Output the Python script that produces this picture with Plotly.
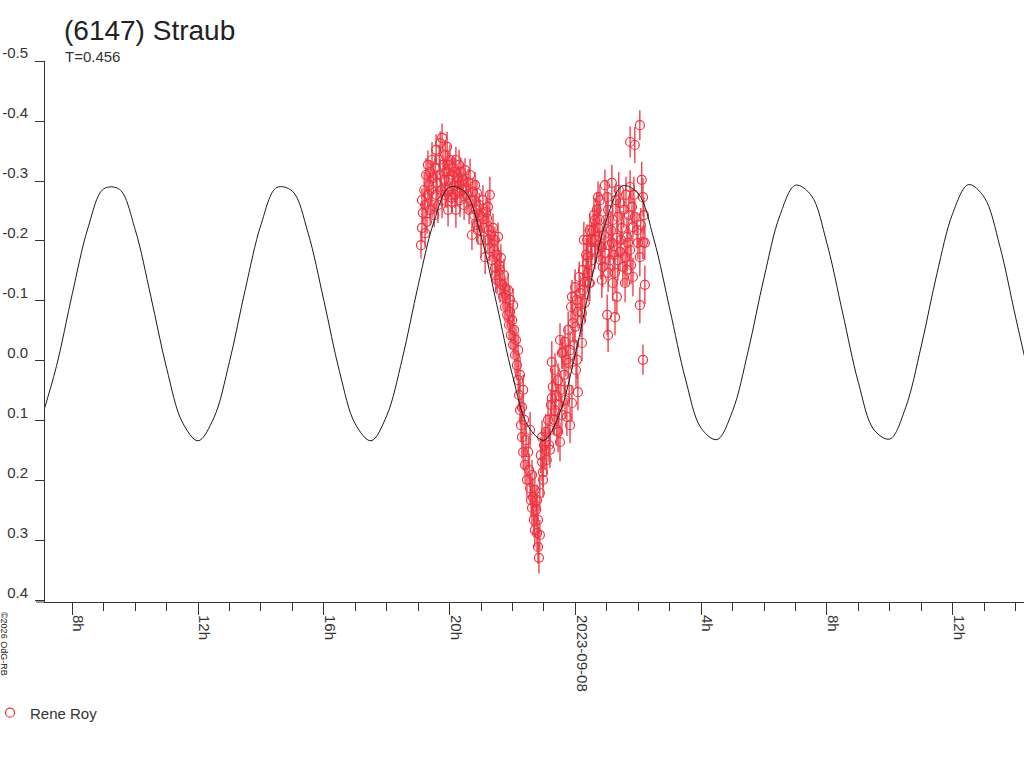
import pandas as pd
import plotly.graph_objects as go

# time axis: hours counted from 2023-09-07 00:00 (UT)
T0 = pd.Timestamp("2023-09-07 00:00")
RED = "#ee3340"

# Fourier fit drawn over the whole window (hours, magnitude)
fit_hours = [7.0, 7.5, 8.0, 8.5, 9.0, 9.5, 10.0, 10.5, 11.0, 11.5, 12.0, 12.5,
             13.0, 13.5, 14.0, 14.5, 15.0, 15.5, 16.0, 16.5, 17.0, 17.5, 18.0, 18.5,
             19.0, 19.5, 20.0, 20.5, 21.0, 21.5, 22.0, 22.5, 23.0, 23.5, 24.0, 24.5,
             25.0, 25.5, 26.0, 26.5, 27.0, 27.5, 28.0, 28.5, 29.0, 29.5, 30.0, 30.5,
             31.0, 31.5, 32.0, 32.5, 33.0, 33.5, 34.0, 34.5, 35.0, 35.5, 36.0, 36.5,
             37.0, 37.5, 38.0, 38.5]
fit_mag = [0.099, 0.008, -0.112, -0.222, -0.287, -0.286, -0.219, -0.107, 0.012, 0.102, 0.133, 0.095,
           0.001, -0.119, -0.227, -0.289, -0.283, -0.213, -0.101, 0.018, 0.105, 0.133, 0.091, -0.005,
           -0.126, -0.232, -0.290, -0.281, -0.208, -0.094, 0.024, 0.109, 0.132, 0.087, -0.012, -0.133,
           -0.237, -0.292, -0.279, -0.202, -0.087, 0.030, 0.112, 0.131, 0.083, -0.018, -0.139, -0.242,
           -0.293, -0.276, -0.196, -0.080, 0.036, 0.115, 0.130, 0.078, -0.025, -0.146, -0.246, -0.294,
           -0.273, -0.191, -0.073, 0.042]

# observations by Rene Roy
obs_hours = [
    19.09, 19.12, 19.12, 19.15, 19.19, 19.22, 19.22, 19.25, 19.28, 19.31, 19.31, 19.35, 19.38, 19.38,
    19.41, 19.44, 19.44, 19.48, 19.51, 19.54, 19.57, 19.57, 19.60, 19.63, 19.67, 19.70, 19.70, 19.73,
    19.76, 19.76, 19.79, 19.83, 19.86, 19.86,
    19.89, 19.92, 19.92, 19.95, 19.95, 19.98, 20.01, 20.05, 20.08, 20.08, 20.11, 20.14, 20.17, 20.20,
    20.20, 20.24, 20.27, 20.30, 20.33, 20.33, 20.17,
    20.36, 20.39, 20.43, 20.46, 20.49, 20.52, 20.55, 20.59, 20.62, 20.65, 20.68, 20.71, 20.74, 20.78, 20.81,
    20.84, 20.87, 20.87, 20.90, 20.94, 20.97, 21.00, 21.03, 21.06, 21.09, 21.13, 21.16, 21.19, 21.22,
    21.22, 21.25, 21.28, 21.28,
    21.32, 21.35, 21.38, 21.41, 21.44, 21.44, 21.47, 21.51, 21.51, 21.54, 21.57, 21.60, 21.60, 21.63,
    21.67, 21.70, 21.73, 21.76, 21.76,
    21.79, 21.83, 21.86, 21.89, 21.92, 21.92, 21.95, 21.99, 22.02, 22.02, 22.05, 22.08, 22.11, 22.14,
    22.18, 22.18,
    22.21, 22.24, 22.24, 22.27, 22.30, 22.30, 22.34, 22.34, 22.37, 22.40, 22.43, 22.46, 22.50, 22.53,
    22.56, 22.56,
    22.59, 22.62, 22.62, 22.65, 22.68, 22.71, 22.71, 22.75, 22.78, 22.78, 22.81, 22.81, 22.84, 22.87, 22.87,
    22.90, 22.94, 22.94, 22.97, 22.97, 23.00, 23.03, 23.06, 23.09, 23.13, 23.16, 23.19, 23.22, 23.25,
    23.25, 23.19,
    23.28, 23.32, 23.35, 23.35, 23.38, 23.41, 23.45, 23.45, 23.48, 23.51, 23.51, 23.54, 23.57, 23.57,
    23.60, 23.64, 23.67, 23.67,
    23.70, 23.73, 23.77, 23.77, 23.80, 23.83, 23.83, 23.86, 23.89, 23.89, 23.92, 23.96, 23.99, 23.99,
    24.02, 24.05, 24.05, 24.08, 24.08,
    24.12, 24.15, 24.18, 24.21, 24.21, 24.24, 24.24, 24.27, 24.30, 24.30, 24.34, 24.37, 24.37, 24.40,
    24.40, 24.43, 24.46, 24.46, 24.49, 24.52, 24.52,
    24.56, 24.59, 24.62, 24.62, 24.65, 24.68, 24.72, 24.72, 24.75, 24.78, 24.78, 24.81, 24.84, 24.84,
    24.87, 24.91, 24.94, 24.94,
    24.97, 25.01, 25.01, 25.04, 25.04, 25.04, 25.07, 25.10, 25.13, 25.16, 25.16, 25.19, 25.19, 25.23,
    25.26, 25.26, 25.29, 25.32, 25.32, 25.35, 25.35, 25.38, 25.42, 25.42,
    25.45, 25.48, 25.51, 25.54, 25.58, 25.58, 25.61, 25.64, 25.64, 25.67, 25.70, 25.74, 25.74, 25.74,
    25.77, 25.80, 25.83, 25.83, 25.86, 25.89, 25.89,
    25.96, 25.99, 26.05, 26.05, 26.05, 26.08, 26.11, 26.15, 26.15, 26.15, 26.18, 26.21, 26.21,
]
obs_mag = [
    -0.193, -0.268, -0.222, -0.247, -0.285, -0.213, -0.260, -0.310, -0.232, -0.327, -0.277, -0.293, -0.252, -0.315,
    -0.285, -0.335, -0.260, -0.305, -0.243, -0.322, -0.277, -0.352, -0.297, -0.260, -0.335, -0.310, -0.363, -0.285,
    -0.372, -0.268, -0.327, -0.302, -0.343, -0.277,
    -0.315, -0.357, -0.285, -0.252, -0.327, -0.302, -0.335, -0.277, -0.310, -0.272, -0.322, -0.293, -0.315, -0.252,
    -0.335, -0.285, -0.305, -0.327, -0.293, -0.268, -0.277,
    -0.315, -0.285, -0.302, -0.260, -0.318, -0.288, -0.277, -0.298, -0.252, -0.310, -0.268, -0.210, -0.282, -0.243, -0.293,
    -0.252, -0.280, -0.227, -0.218, -0.260, -0.243, -0.202, -0.240, -0.268, -0.222, -0.173, -0.248, -0.238, -0.257,
    -0.202, -0.218, -0.277, -0.188,
    -0.210, -0.168, -0.222, -0.185, -0.155, -0.202, -0.143, -0.177, -0.135, -0.207, -0.160, -0.118, -0.152, -0.172,
    -0.127, -0.107, -0.143, -0.090, -0.122,
    -0.110, -0.077, -0.118, -0.060, -0.082, -0.102, -0.043, -0.068, -0.027, -0.093, -0.052, -0.010, -0.035, 0.007,
    -0.018, 0.032,
    0.057, 0.082, 0.023, 0.107, 0.077, 0.127, 0.152, 0.048, 0.098, 0.173, 0.132, 0.198, 0.152, 0.182,
    0.212, 0.115,
    0.232, 0.245, 0.190, 0.227, 0.265, 0.215, 0.282, 0.248, 0.287, 0.232, 0.310, 0.265, 0.328, 0.220, 0.290,
    0.157, 0.127, 0.168, 0.185, 0.198, 0.140, 0.148, 0.118, 0.165, 0.098, 0.140, 0.148, 0.073, 0.002,
    0.062, 0.115,
    0.043, 0.098, 0.082, 0.015, 0.057, 0.115, 0.118, 0.032, 0.073, 0.135, -0.035, 0.048, -0.013, 0.090,
    -0.015, 0.023, -0.032, 0.065,
    -0.002, 0.093, 0.003, -0.052, 0.048, -0.018, 0.107, -0.090, 0.070, -0.107, -0.063, -0.027, -0.123, -0.057,
    0.015, -0.102, -0.002, -0.082, 0.052,
    -0.140, -0.113, -0.068, -0.080, -0.030, -0.152, -0.118, -0.202, -0.132, -0.097, -0.177, -0.163, -0.202, -0.147,
    -0.173, -0.130, -0.130, -0.218, -0.185, -0.202, -0.168,
    -0.218, -0.243, -0.235, -0.185, -0.202, -0.252, -0.273, -0.222, -0.193, -0.235, -0.268, -0.168, -0.190, -0.135,
    -0.157, -0.210, -0.180, -0.293,
    -0.235, -0.273, -0.077, -0.252, -0.147, -0.043, -0.193, -0.168, -0.218, -0.297, -0.197, -0.235, -0.130, -0.177,
    -0.147, -0.073, -0.268, -0.205, -0.107, -0.240, -0.168, -0.285, -0.263, -0.182,
    -0.202, -0.222, -0.157, -0.252, -0.173, -0.130, -0.277, -0.207, -0.152, -0.197, -0.243, -0.290, -0.185, -0.365,
    -0.160, -0.257, -0.223, -0.140, -0.277, -0.240, -0.360,
    -0.218, -0.197, -0.393, -0.173, -0.093, -0.227, -0.302, -0.273, -0.198, -0.002, -0.243, -0.197, -0.127,
]
obs_err = [
    0.022, 0.020, 0.025, 0.018, 0.030, 0.022, 0.026, 0.028, 0.020, 0.024, 0.030, 0.022, 0.026, 0.020,
    0.025, 0.030, 0.022, 0.028, 0.020, 0.024, 0.032, 0.026, 0.022, 0.030, 0.025, 0.028, 0.020, 0.026,
    0.024, 0.030, 0.022, 0.027, 0.025, 0.021,
    0.022, 0.025, 0.030, 0.028, 0.020, 0.024, 0.026, 0.022, 0.030, 0.025, 0.021, 0.027, 0.024, 0.030,
    0.022, 0.026, 0.020, 0.025, 0.023, 0.028, 0.022,
    0.024, 0.022, 0.028, 0.025, 0.020, 0.026, 0.030, 0.022, 0.024, 0.027, 0.021, 0.025, 0.023, 0.028, 0.022,
    0.025, 0.022, 0.028, 0.024, 0.020, 0.026, 0.030, 0.022, 0.025, 0.021, 0.028, 0.024, 0.022, 0.026,
    0.020, 0.025, 0.030, 0.022,
    0.022, 0.026, 0.024, 0.020, 0.028, 0.022, 0.025, 0.030, 0.022, 0.024, 0.026, 0.021, 0.028, 0.023,
    0.025, 0.022, 0.027, 0.024, 0.020,
    0.024, 0.022, 0.028, 0.025, 0.030, 0.022, 0.024, 0.026, 0.022, 0.028, 0.024, 0.030, 0.022, 0.025,
    0.028, 0.024,
    0.026, 0.024, 0.030, 0.028, 0.022, 0.035, 0.030, 0.025, 0.026, 0.032, 0.028, 0.030, 0.025, 0.028,
    0.026, 0.030,
    0.028, 0.030, 0.025, 0.032, 0.026, 0.030, 0.028, 0.024, 0.030, 0.026, 0.028, 0.032, 0.026, 0.030, 0.025,
    0.030, 0.028, 0.032, 0.026, 0.030, 0.028, 0.034, 0.030, 0.026, 0.032, 0.028, 0.030, 0.026, 0.035,
    0.030, 0.028,
    0.030, 0.026, 0.032, 0.028, 0.030, 0.026, 0.034, 0.028, 0.030, 0.032, 0.028, 0.030, 0.026, 0.032,
    0.028, 0.030, 0.026, 0.032,
    0.028, 0.032, 0.026, 0.030, 0.028, 0.032, 0.030, 0.026, 0.030, 0.028, 0.032, 0.026, 0.030, 0.028,
    0.030, 0.026, 0.032, 0.028, 0.030,
    0.026, 0.030, 0.028, 0.032, 0.030, 0.026, 0.028, 0.030, 0.026, 0.032, 0.028, 0.030, 0.026, 0.028,
    0.032, 0.026, 0.030, 0.028, 0.026, 0.030, 0.028,
    0.028, 0.030, 0.026, 0.032, 0.028, 0.030, 0.026, 0.034, 0.028, 0.030, 0.026, 0.032, 0.028, 0.030,
    0.034, 0.028, 0.030, 0.026,
    0.030, 0.028, 0.034, 0.030, 0.032, 0.028, 0.030, 0.026, 0.032, 0.030, 0.028, 0.034, 0.030, 0.028,
    0.032, 0.030, 0.028, 0.032, 0.030, 0.028, 0.034, 0.030, 0.028, 0.032,
    0.030, 0.028, 0.032, 0.030, 0.028, 0.032, 0.030, 0.034, 0.028, 0.030, 0.032, 0.028, 0.030, 0.026,
    0.032, 0.030, 0.028, 0.032, 0.030, 0.028, 0.030,
    0.030, 0.028, 0.025, 0.032, 0.030, 0.028, 0.030, 0.032, 0.028, 0.025, 0.030, 0.028, 0.032,
]

# axis ticks
x_tickvals = ["2023-09-07 08:00", "2023-09-07 12:00", "2023-09-07 16:00", "2023-09-07 20:00",
              "2023-09-08 00:00", "2023-09-08 04:00", "2023-09-08 08:00", "2023-09-08 12:00"]
x_ticktext = ["8h", "12h", "16h", "20h", "2023-09-08", "4h", "8h", "12h"]
y_tickvals = [-0.5, -0.4, -0.3, -0.2, -0.1, 0.0, 0.1, 0.2, 0.3, 0.4]
y_ticktext = ["-0.5", "-0.4", "-0.3", "-0.2", "-0.1", "0.0", "0.1", "0.2", "0.3", "0.4"]


def to_time(hours):
    return [T0 + pd.Timedelta(hours=h) for h in hours]


fig = go.Figure()

fig.add_trace(go.Scatter(
    x=to_time(obs_hours), y=obs_mag, mode="markers", name="Rene Roy",
    marker=dict(symbol="circle-open", size=9, color=RED, line=dict(width=1.2, color=RED)),
    error_y=dict(type="data", array=obs_err, color=RED, thickness=1.3, width=0),
))

# fit curve goes on top of the points
fig.add_trace(go.Scatter(
    x=to_time(fit_hours), y=fit_mag, mode="lines", showlegend=False, hoverinfo="skip",
    line=dict(color="#1a1a1a", width=1, shape="spline"),
))

axis_col = "#333333"
fig.update_layout(
    width=1024, height=768,
    margin=dict(l=45, r=0, t=61, b=166, autoexpand=False),
    paper_bgcolor="white", plot_bgcolor="white",
    font=dict(family="Liberation Sans, Arial, sans-serif", size=15, color="#333333"),
    title=dict(text="(6147) Straub", x=64 / 1024, xanchor="left", xref="container",
               y=1 - 30 / 768, yanchor="middle", yref="container",
               font=dict(size=28, color="#222222")),
    showlegend=True,
    legend=dict(x=-55 / 979, xanchor="left", y=-0.205, yanchor="middle",
                bgcolor="rgba(0,0,0,0)", font=dict(size=15)),
    xaxis=dict(
        type="date", automargin=False,
        range=[T0 + pd.Timedelta(hours=7.132), T0 + pd.Timedelta(hours=38.267)],
        tickvals=x_tickvals, ticktext=x_ticktext, tickangle=90,
        ticks="outside", ticklen=12, tickcolor=axis_col,
        ticklabelshift=6, ticklabelstandoff=-3,
        showline=True, linecolor=axis_col, linewidth=1,
        showgrid=False, zeroline=False,
        minor=dict(ticks="outside", ticklen=8, tickcolor=axis_col,
                   dtick=3600000, tick0="2023-09-07 00:00", showgrid=False),
    ),
    yaxis=dict(
        range=[0.4017, -0.5], automargin=False,
        tickvals=y_tickvals, ticktext=y_ticktext,
        ticks="outside", ticklen=9, tickcolor=axis_col,
        ticklabelshift=8, ticklabelstandoff=4,
        showline=True, linecolor=axis_col, linewidth=1,
        showgrid=False, zeroline=False,
    ),
    annotations=[
        dict(text="T=0.456", xref="paper", yref="paper", x=0.0179, y=1.0074,
             xanchor="left", yanchor="middle", showarrow=False, font=dict(size=15)),
        dict(text="©2026 OdG-RB", xref="paper", yref="paper", x=-41 / 979, y=-0.0776,
             xanchor="center", yanchor="middle", textangle=90, showarrow=False,
             font=dict(size=9, color="#222222")),
    ],
    shapes=[
        # x axis line runs a little past the y axis, under the tick marks
        dict(type="line", xref="paper", yref="paper", x0=-9 / 979, x1=0, y0=0, y1=0,
             line=dict(color=axis_col, width=1)),
    ],
)

# page body has a default 8px margin; drop it so the figure fills the window
fig.write_html("out.html", config={"displayModeBar": False},
               post_script="document.body.style.margin = '0';")
